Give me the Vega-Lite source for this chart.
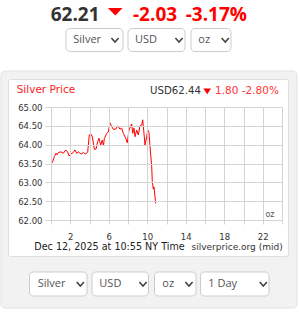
{
  "$schema": "https://vega.github.io/schema/vega-lite/v6.json",
  "width": 231,
  "height": 113,
  "autosize": {"type": "none"},
  "padding": {"left": 51, "top": 107, "right": 18, "bottom": 92},
  "background": "white",
  "config": {
    "view": {"stroke": null},
    "axis": {"title": null, "domain": false, "grid": true, "gridColor": "#d4d4d4", "tickColor": "#d4d4d4", "labelFont": "DejaVu Sans", "labelFontSize": 8.5, "labelColor": "#333333"}
  },
  "encoding": {
    "x": {"field": "t", "type": "quantitative", "scale": {"domain": [0, 24], "nice": false, "zero": false},
      "axis": {"zindex": 2, "values": [0, 2, 4, 6, 8, 10, 12, 14, 16, 18, 20, 22, 24], "tickSize": 4, "labelPadding": 8, "labelExpr": "(datum.value - 2) % 4 == 0 ? datum.value : ''"}},
    "y": {"field": "v", "type": "quantitative", "scale": {"domain": [62, 65], "nice": false, "zero": false},
      "axis": {"zindex": 2, "values": [62, 62.5, 63, 63.5, 64, 64.5, 65], "format": ".2f", "tickSize": 6, "labelPadding": 3}}
  },
  "layer": [
    {
      "data": {"values": [{"t": -5.195, "t2": 25.558, "v": 59.664, "v2": 65.956}]},
      "mark": {"type": "rect", "fill": "#f2f2f2", "stroke": "#e2e2e2", "strokeWidth": 1, "cornerRadius": 4, "zindex": 0},
      "encoding": {"x2": {"field": "t2"}, "y2": {"field": "v2"}}
    },
    {
      "data": {"values": [{"t": -4.416, "t2": 24.675, "v": 61.031, "v2": 65.73}]},
      "mark": {"type": "rect", "fill": "#ffffff", "stroke": "#dedede", "strokeWidth": 1, "cornerRadius": 2, "zindex": 0},
      "encoding": {"x2": {"field": "t2"}, "y2": {"field": "v2"}}
    },
    {
      "data": {"values": [
        {"t": 1.558, "t2": 7.481, "v": 66.473, "v2": 67.084},
        {"t": 8.0, "t2": 13.922, "v": 66.473, "v2": 67.084},
        {"t": 14.545, "t2": 18.701, "v": 66.473, "v2": 67.084},
        {"t": -2.234, "t2": 3.74, "v": 59.982, "v2": 60.62},
        {"t": 4.26, "t2": 10.13, "v": 59.982, "v2": 60.62},
        {"t": 10.753, "t2": 15.065, "v": 59.982, "v2": 60.62},
        {"t": 15.532, "t2": 22.649, "v": 59.982, "v2": 60.62}
      ]},
      "mark": {"type": "rect", "fill": "#ffffff", "stroke": "#cccccc", "strokeWidth": 1, "cornerRadius": 4, "zindex": 0},
      "encoding": {"x2": {"field": "t2"}, "y2": {"field": "v2"}}
    },
    {
      "data": {"values": [
        {"t": 0.135, "v": 63.52}, {"t": 0.343, "v": 63.68}, {"t": 0.519, "v": 63.77}, {"t": 0.623, "v": 63.73},
        {"t": 0.758, "v": 63.79}, {"t": 1.039, "v": 63.81}, {"t": 1.278, "v": 63.77}, {"t": 1.527, "v": 63.86},
        {"t": 1.735, "v": 63.8}, {"t": 1.87, "v": 63.7}, {"t": 2.078, "v": 63.75}, {"t": 2.317, "v": 63.79},
        {"t": 2.494, "v": 63.86}, {"t": 2.67, "v": 63.77}, {"t": 2.836, "v": 63.81}, {"t": 3.117, "v": 63.75},
        {"t": 3.356, "v": 63.79}, {"t": 3.605, "v": 63.75}, {"t": 3.813, "v": 63.81}, {"t": 3.979, "v": 64.26},
        {"t": 4.156, "v": 64.28}, {"t": 4.291, "v": 64.21}, {"t": 4.499, "v": 63.88}, {"t": 4.675, "v": 63.88},
        {"t": 4.852, "v": 64.08}, {"t": 4.987, "v": 64.17}, {"t": 5.164, "v": 63.99}, {"t": 5.33, "v": 64.12},
        {"t": 5.45, "v": 63.97}, {"t": 5.538, "v": 64.16}, {"t": 5.787, "v": 64.3}, {"t": 5.953, "v": 64.34},
        {"t": 6.13, "v": 64.58}, {"t": 6.306, "v": 64.48}, {"t": 6.473, "v": 64.41}, {"t": 6.722, "v": 64.41},
        {"t": 6.93, "v": 64.5}, {"t": 7.169, "v": 64.41}, {"t": 7.345, "v": 64.44}, {"t": 7.512, "v": 64.3},
        {"t": 7.761, "v": 64.17}, {"t": 7.927, "v": 64.05}, {"t": 8.104, "v": 64.39}, {"t": 8.281, "v": 64.5},
        {"t": 8.384, "v": 64.55}, {"t": 8.488, "v": 64.3}, {"t": 8.623, "v": 64.44}, {"t": 8.727, "v": 64.21},
        {"t": 8.904, "v": 64.39}, {"t": 9.07, "v": 64.26}, {"t": 9.247, "v": 64.5}, {"t": 9.423, "v": 64.52},
        {"t": 9.527, "v": 64.66}, {"t": 9.662, "v": 64.3}, {"t": 9.766, "v": 63.99}, {"t": 9.943, "v": 64.21},
        {"t": 10.047, "v": 64.39}, {"t": 10.182, "v": 64.32}, {"t": 10.286, "v": 63.95}, {"t": 10.462, "v": 63.42},
        {"t": 10.525, "v": 63.02}, {"t": 10.629, "v": 62.82}, {"t": 10.701, "v": 62.88}, {"t": 10.805, "v": 62.62},
        {"t": 10.878, "v": 62.44}
      ]},
      "mark": {"type": "line", "color": "#ff0000", "strokeWidth": 1, "zindex": 3}
    },
    {
      "data": {"values": [{"label": "62.21", "t": -0.031, "v": 67.291}]},
      "mark": {"type": "text", "align": "left", "baseline": "alphabetic", "font": "Open Sans", "fontSize": 19, "fontWeight": "bold", "color": "#333333"},
      "encoding": {"text": {"field": "label"}}
    },
    {
      "data": {"values": [{"label": "-2.03", "t": 8.519, "v": 67.291}, {"label": "-3.17%", "t": 13.995, "v": 67.291}]},
      "mark": {"type": "text", "align": "left", "baseline": "alphabetic", "font": "Open Sans", "fontSize": 19, "fontWeight": "bold", "color": "#ff0000"},
      "encoding": {"text": {"field": "label"}}
    },
    {
      "data": {"values": [{"t": 6.68, "v": 67.53}]},
      "mark": {"type": "point", "shape": "M-1,-0.5L1,-0.5L0,0.5Z", "size": 216, "filled": true, "color": "#ff0000", "opacity": 1, "strokeWidth": 0}
    },
    {
      "data": {"values": [
        {"label": "Silver", "t": 2.317, "v": 66.779}, {"label": "USD", "t": 8.727, "v": 66.779}, {"label": "oz", "t": 15.3, "v": 66.779},
        {"label": "Silver", "t": -1.382, "v": 60.301}, {"label": "USD", "t": 5.022, "v": 60.301}, {"label": "oz", "t": 11.567, "v": 60.301}, {"label": "1 Day", "t": 16.346, "v": 60.301}
      ]},
      "mark": {"type": "text", "align": "left", "baseline": "middle", "font": "Open Sans", "fontSize": 11, "color": "#555555"},
      "encoding": {"text": {"field": "label"}}
    },
    {
      "data": {"values": [
        {"t": 6.649, "v": 66.779}, {"t": 13.299, "v": 66.779}, {"t": 18.104, "v": 66.779},
        {"t": 3.047, "v": 60.301}, {"t": 9.558, "v": 60.301}, {"t": 14.338, "v": 60.301}, {"t": 22.06, "v": 60.301}
      ]},
      "mark": {"type": "point", "shape": "M-1,-0.55L0,0.55L1,-0.55", "size": 52, "filled": false, "color": "#444444", "opacity": 1, "strokeWidth": 1.6}
    },
    {
      "data": {"values": [{"label": "Silver Price", "t": -3.564, "v": 65.38}]},
      "mark": {"type": "text", "align": "left", "baseline": "alphabetic", "font": "DejaVu Sans", "fontSize": 10.5, "color": "#ff1a1a"},
      "encoding": {"text": {"field": "label"}}
    },
    {
      "data": {"values": [{"label": "USD62.44", "t": 10.286, "v": 65.337}]},
      "mark": {"type": "text", "align": "left", "baseline": "alphabetic", "font": "DejaVu Sans", "fontSize": 10.2, "color": "#333333"},
      "encoding": {"text": {"field": "label"}}
    },
    {
      "data": {"values": [{"t": 16.229, "v": 65.417}]},
      "mark": {"type": "point", "shape": "M-1,-0.75L1,-0.75L0,0.75Z", "size": 59, "filled": true, "color": "#ff0000", "opacity": 1, "strokeWidth": 0}
    },
    {
      "data": {"values": [{"label": "1.80 -2.80%", "t": 17.039, "v": 65.337}]},
      "mark": {"type": "text", "align": "left", "baseline": "alphabetic", "font": "DejaVu Sans", "fontSize": 10.5, "color": "#ff3333"},
      "encoding": {"text": {"field": "label"}}
    },
    {
      "data": {"values": [{"label": "oz", "t": 22.753, "v": 62.133}]},
      "mark": {"type": "text", "align": "center", "baseline": "middle", "font": "DejaVu Sans", "fontSize": 8, "color": "#555555", "zindex": 3},
      "encoding": {"text": {"field": "label"}}
    },
    {
      "data": {"values": [{"label": "Dec 12, 2025 at 10:55 NY Time", "t": -1.735, "v": 61.204}]},
      "mark": {"type": "text", "align": "left", "baseline": "alphabetic", "font": "DejaVu Sans", "fontSize": 9.6, "color": "#222222"},
      "encoding": {"text": {"field": "label"}}
    },
    {
      "data": {"values": [{"label": "silverprice.org (mid)", "t": 24.073, "v": 61.204}]},
      "mark": {"type": "text", "align": "right", "baseline": "alphabetic", "font": "DejaVu Sans", "fontSize": 9, "color": "#333333"},
      "encoding": {"text": {"field": "label"}}
    }
  ]
}
